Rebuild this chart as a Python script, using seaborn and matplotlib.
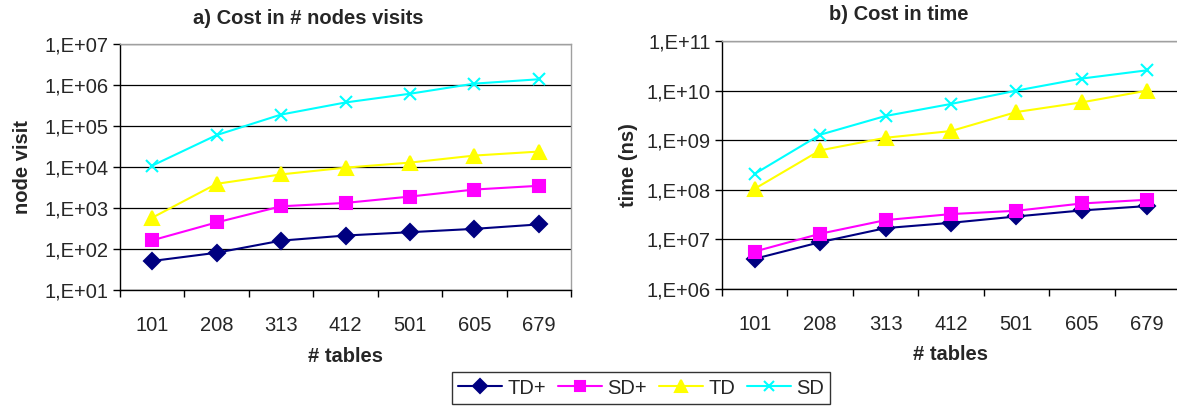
import math
import matplotlib
matplotlib.use("Agg")
import matplotlib.pyplot as plt
import matplotlib.ticker as mticker
import pandas as pd
import seaborn as sns

tables = ["101", "208", "313", "412", "501", "605", "679"]
series = ["TD+", "SD+", "TD", "SD"]

# a) node visits
visits_td_plus = [51, 81, 160, 213, 257, 310, 398]
visits_sd_plus = [163, 445, 1100, 1330, 1900, 2820, 3480]
visits_td = [580, 3890, 6600, 9640, 12800, 19000, 23800]
visits_sd = [10800, 60000, 190000, 375000, 612000, 1080000, 1380000]

# b) time in ns
time_td_plus = [4.06e6, 8.8e6, 1.69e7, 2.16e7, 2.9e7, 3.84e7, 4.7e7]
time_sd_plus = [5.7e6, 1.3e7, 2.45e7, 3.24e7, 3.78e7, 5.3e7, 6.3e7]
time_td = [1.05e8, 6.24e8, 1.12e9, 1.53e9, 3.7e9, 5.8e9, 1.0e10]
time_sd = [2.1e8, 1.29e9, 3.08e9, 5.38e9, 1.0e10, 1.75e10, 2.57e10]

colors = {"TD+": "#000080", "SD+": "#FF00FF", "TD": "#FFFF00", "SD": "#00FFFF"}
markers = {"TD+": "D", "SD+": "s", "TD": "^", "SD": "x"}
msizes = {"TD+": 8, "SD+": 9, "TD": 10, "SD": 9}

FS = 14.5


def long_df(values):
    rows = []
    for name, vals in zip(series, values):
        for i, v in enumerate(vals):
            rows.append({"pos": i, "value": v, "series": name})
    return pd.DataFrame(rows)


df_a = long_df([visits_td_plus, visits_sd_plus, visits_td, visits_sd])
df_b = long_df([time_td_plus, time_sd_plus, time_td, time_sd])

sns.set_style("white")
plt.rcParams["font.family"] = ["Liberation Sans", "DejaVu Sans"]

fig = plt.figure(figsize=(11.77, 4.12), dpi=100)
ax1 = fig.add_axes([120 / 1177, 1 - 290 / 412, 451 / 1177, 246 / 412])
ax2 = fig.add_axes([722 / 1177, 1 - 289 / 412, 458 / 1177, 248 / 412])


def excel_fmt(v, pos):
    e = int(round(math.log10(v)))
    return "1,E%+03d" % e


def draw(ax, df, ylim, ylabel, ypad):
    for name in series:
        sub = df[df["series"] == name]
        sns.lineplot(data=sub, x="pos", y="value", color=colors[name],
                     marker=markers[name], markersize=msizes[name],
                     markeredgewidth=1.5, markeredgecolor=colors[name],
                     linewidth=1.5, ax=ax, label=name)
    ax.set_yscale("log")
    ax.set_ylim(*ylim)
    ax.set_xlim(-0.5, 6.5)
    ax.yaxis.set_major_locator(mticker.LogLocator(base=10, numticks=20))
    ax.yaxis.set_minor_locator(mticker.NullLocator())
    ax.yaxis.set_major_formatter(mticker.FuncFormatter(excel_fmt))
    ax.set_xticks([i - 0.5 for i in range(8)])
    ax.set_xticklabels([])
    ax.set_xticks(range(7), minor=True)
    ax.set_xticklabels(tables, minor=True)
    ax.tick_params(axis="x", which="major", length=5, direction="out", color="black", width=1)
    ax.tick_params(axis="x", which="minor", length=0, pad=19, labelsize=FS)
    ax.tick_params(axis="y", length=5, direction="out", color="black", width=1, labelsize=FS, pad=3)
    ax.tick_params(left=True, bottom=True)
    ax.grid(axis="y", color="black", linewidth=0.9)
    for s in ["top", "right"]:
        ax.spines[s].set_color("#a0a0a0")
        ax.spines[s].set_linewidth(1)
    for s in ["left", "bottom"]:
        ax.spines[s].set_color("black")
        ax.spines[s].set_linewidth(1)
    ax.set_xlabel("# tables", fontsize=FS, fontweight="bold", labelpad=8)
    ax.set_ylabel(ylabel, fontsize=FS, fontweight="bold", labelpad=ypad)


draw(ax1, df_a, (1e1, 1e7), "node visit", 9)
draw(ax2, df_b, (1e6, 1e11), "time (ns)", 6)

fig.text(308 / 1177, 1 - 18 / 412, "a) Cost in # nodes visits", ha="center", va="center",
         fontsize=FS, fontweight="bold")
fig.text(899 / 1177, 1 - 15 / 412, "b) Cost in time", ha="center", va="center",
         fontsize=FS, fontweight="bold")

handles, labels = ax1.get_legend_handles_labels()
ax1.get_legend().remove()
ax2.get_legend().remove()
leg = fig.legend(handles, labels, loc="center", bbox_to_anchor=(641 / 1177, 1 - 388 / 412),
                 ncol=4, frameon=True, fancybox=False, fontsize=FS,
                 handlelength=2.2, handletextpad=0.25, columnspacing=0.6,
                 borderpad=0.3, edgecolor="black", markerscale=0.85)
leg.get_frame().set_linewidth(1)

fig.savefig("out.png", dpi=100)
